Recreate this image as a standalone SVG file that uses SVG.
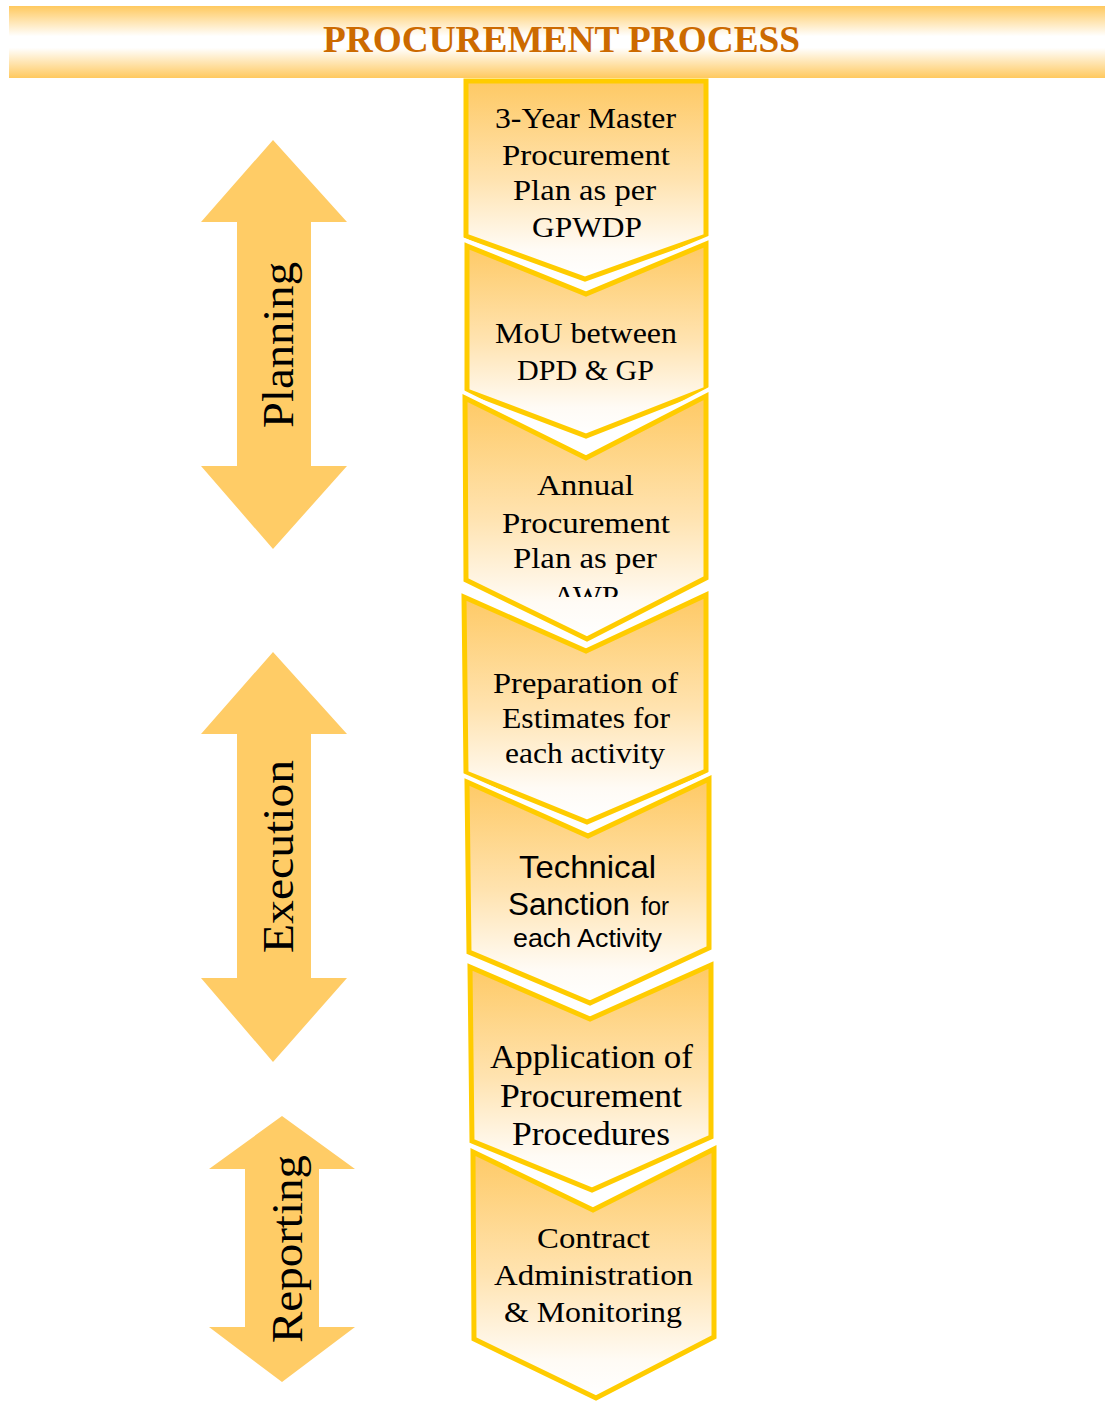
<svg xmlns="http://www.w3.org/2000/svg" width="1105" height="1402" viewBox="0 0 1105 1402">
<defs>
<linearGradient id="banner" x1="0" y1="0" x2="0" y2="1">
<stop offset="0" stop-color="#FFC95F"/>
<stop offset="0.42" stop-color="#FFFFFF"/>
<stop offset="0.58" stop-color="#FFFFFF"/>
<stop offset="1" stop-color="#FFC95F"/>
</linearGradient>
<linearGradient id="chev" x1="0" y1="0" x2="0" y2="1">
<stop offset="0" stop-color="#FEC964"/>
<stop offset="0.5" stop-color="#FFE3B0"/>
<stop offset="0.85" stop-color="#FFFBF5"/>
<stop offset="1" stop-color="#FFFFFF"/>
</linearGradient>
<clipPath id="clipAWP"><rect x="460" y="560" width="250" height="37"/></clipPath>
<style>
.halo{fill:none;stroke:#FFFFFF;stroke-width:13;stroke-linejoin:miter}
.chev{fill:url(#chev);stroke:#FFCC00;stroke-width:5;stroke-linejoin:miter}
.arrow{fill:#FFCC66}
.serif{font-family:"Liberation Serif","Times New Roman",serif;fill:#000;font-size:30px}
.sans{font-family:"Liberation Sans",Arial,sans-serif;fill:#000}
.side{font-family:"Liberation Serif","Times New Roman",serif;fill:#000;font-size:45px}
.title{font-family:"Liberation Serif","Times New Roman",serif;font-weight:bold;fill:#CC6A00;font-size:38px}
</style>
</defs>
<rect width="1105" height="1402" fill="#FFFFFF"/>

<g id="banner-title">
<rect x="9" y="6" width="1096" height="72" fill="url(#banner)"/>
<text class="title" x="323" y="52" textLength="477" lengthAdjust="spacingAndGlyphs">PROCUREMENT PROCESS</text>
</g>

<g id="arrow-planning">
<polygon class="arrow" points="273,140 347,222 311,222 311,466 347,466 273,549 201,466 237,466 237,222 201,222"/>
<text class="side" transform="translate(293,428) rotate(-90)" x="0" y="0" textLength="166" lengthAdjust="spacingAndGlyphs">Planning</text>
</g>
<g id="arrow-execution">
<polygon class="arrow" points="273,652 347,734 311,734 311,978 347,978 273,1062 201,978 237,978 237,734 201,734"/>
<text class="side" transform="translate(293,953) rotate(-90)" x="0" y="0" textLength="193" lengthAdjust="spacingAndGlyphs">Execution</text>
</g>
<g id="arrow-reporting">
<polygon class="arrow" points="282,1116 355,1169 319,1169 319,1327 355,1327 282,1382 209,1327 245,1327 245,1169 209,1169"/>
<text class="side" transform="translate(302,1343) rotate(-90)" x="0" y="0" textLength="188" lengthAdjust="spacingAndGlyphs">Reporting</text>
</g>

<g id="step1">
<path class="chev" d="M466,81 L706,81 L706,236 L585,279 L466,236 Z"/>
<text class="serif"><tspan x="495" y="128" textLength="181" lengthAdjust="spacingAndGlyphs">3-Year Master</tspan><tspan x="502" y="165" textLength="168" lengthAdjust="spacingAndGlyphs">Procurement</tspan><tspan x="513" y="200" textLength="143" lengthAdjust="spacingAndGlyphs">Plan as per</tspan><tspan x="532" y="237" textLength="110" lengthAdjust="spacingAndGlyphs">GPWDP</tspan></text>
</g>

<g id="step2">
<path class="halo" d="M467,246 L586,294 L706,244 L706,389 L586,436 L467,391 Z"/>
<path class="chev" d="M467,246 L586,294 L706,244 L706,389 L586,436 L467,391 Z"/>
<text class="serif"><tspan x="495" y="343" textLength="182" lengthAdjust="spacingAndGlyphs">MoU between</tspan><tspan x="517" y="380" textLength="137" lengthAdjust="spacingAndGlyphs">DPD &amp; GP</tspan></text>
</g>

<g id="step3">
<path class="halo" d="M465,398 L586,458 L706,396 L706,578 L587,639 L466,580 Z"/>
<path class="chev" d="M465,398 L586,458 L706,396 L706,578 L587,639 L466,580 Z"/>
<text class="serif"><tspan x="537" y="495" textLength="97" lengthAdjust="spacingAndGlyphs">Annual</tspan><tspan x="502" y="533" textLength="168" lengthAdjust="spacingAndGlyphs">Procurement</tspan><tspan x="513" y="568" textLength="144" lengthAdjust="spacingAndGlyphs">Plan as per</tspan></text>
<text class="serif" clip-path="url(#clipAWP)" x="553" y="606" textLength="66" lengthAdjust="spacingAndGlyphs">AWP</text>
</g>

<g id="step4">
<path class="halo" d="M464,597 L586,651 L706,595 L706,771 L587,822 L466,773 Z"/>
<path class="chev" d="M464,597 L586,651 L706,595 L706,771 L587,822 L466,773 Z"/>
<text class="serif"><tspan x="493" y="693" textLength="185" lengthAdjust="spacingAndGlyphs">Preparation of</tspan><tspan x="502" y="728" textLength="168" lengthAdjust="spacingAndGlyphs">Estimates for</tspan><tspan x="505" y="763" textLength="160" lengthAdjust="spacingAndGlyphs">each activity</tspan></text>
</g>

<g id="step5">
<path class="halo" d="M467,782 L588,836 L709,779 L709,948 L590,1003 L469,952 Z"/>
<path class="chev" d="M467,782 L588,836 L709,779 L709,948 L590,1003 L469,952 Z"/>
<text class="sans"><tspan x="519" y="878" font-size="32" textLength="137" lengthAdjust="spacingAndGlyphs">Technical</tspan><tspan x="508" y="915" font-size="31" textLength="122" lengthAdjust="spacingAndGlyphs">Sanction</tspan><tspan x="641" y="915" font-size="25" textLength="28" lengthAdjust="spacingAndGlyphs">for</tspan><tspan x="513" y="947" font-size="26" textLength="149" lengthAdjust="spacingAndGlyphs">each Activity</tspan></text>
</g>

<g id="step6">
<path class="halo" d="M470,967 L590,1019 L711,965 L711,1137 L592,1190 L472,1141 Z"/>
<path class="chev" d="M470,967 L590,1019 L711,965 L711,1137 L592,1190 L472,1141 Z"/>
<text class="serif"><tspan x="490" y="1068" font-size="33" textLength="203" lengthAdjust="spacingAndGlyphs">Application of</tspan><tspan x="500" y="1107" font-size="33" textLength="182" lengthAdjust="spacingAndGlyphs">Procurement</tspan><tspan x="512" y="1145" font-size="33" textLength="158" lengthAdjust="spacingAndGlyphs">Procedures</tspan></text>
</g>

<g id="step7">
<path class="halo" d="M473,1152 L593,1210 L714,1149 L714,1337 L596,1398 L474,1339 Z"/>
<path class="chev" d="M473,1152 L593,1210 L714,1149 L714,1337 L596,1398 L474,1339 Z"/>
<text class="serif"><tspan x="537" y="1248" textLength="113" lengthAdjust="spacingAndGlyphs">Contract</tspan><tspan x="494" y="1285" textLength="199" lengthAdjust="spacingAndGlyphs">Administration</tspan><tspan x="504" y="1322" textLength="178" lengthAdjust="spacingAndGlyphs">&amp; Monitoring</tspan></text>
</g>

<g id="connectors"></g>
</svg>
